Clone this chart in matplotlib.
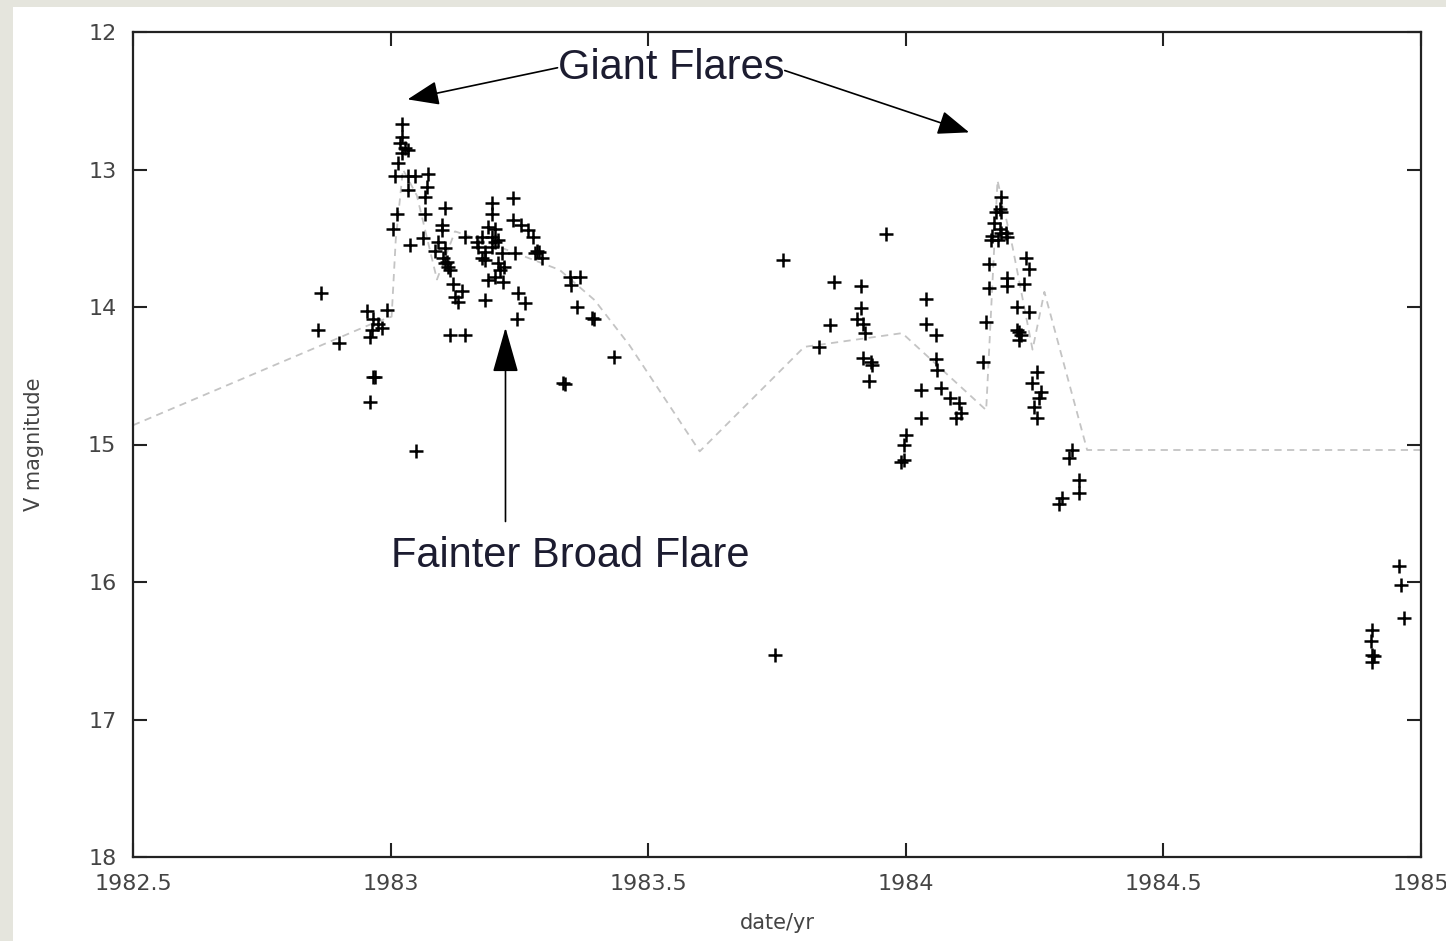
import numpy as np
import matplotlib
matplotlib.use("Agg")
import matplotlib.pyplot as plt
from matplotlib.patches import Rectangle

# V-band photometry (year, V mag)
obs_year = [
    1982.865, 1982.859, 1982.900, 1982.954, 1982.993, 1982.965, 1982.975, 1982.964,
    1982.983, 1982.960, 1982.965, 1982.969, 1982.960, 1983.049,
    # first giant flare
    1983.022, 1983.022, 1983.018, 1983.028, 1983.033, 1983.022, 1983.014, 1983.008,
    1983.033, 1983.047, 1983.072, 1983.033, 1983.070, 1983.066, 1983.012, 1983.066,
    1983.105, 1983.004, 1983.037, 1983.062, 1983.099, 1983.099, 1983.092, 1983.086,
    1983.105, 1983.101, 1983.109, 1983.111, 1983.115, 1983.105, 1983.121, 1983.138,
    1983.125, 1983.130, 1983.144, 1983.115, 1983.144,
    # fainter broad flare
    1983.183, 1983.237, 1983.196, 1983.196, 1983.189, 1983.202, 1983.177, 1983.196,
    1983.208, 1983.169, 1983.183, 1983.196, 1983.216, 1983.202, 1983.183, 1983.208,
    1983.212, 1983.202, 1983.189, 1983.221, 1983.241, 1983.237, 1983.254, 1983.266,
    1983.276, 1983.284, 1983.289, 1983.293, 1983.247, 1983.260, 1983.245, 1983.218,
    1983.167, 1983.177, 1983.280,
    1983.348, 1983.367, 1983.351, 1983.361, 1983.390, 1983.394, 1983.433, 1983.334,
    1983.338, 1983.747,
    # late 1983 / early 1984
    1983.761, 1983.962, 1983.861, 1983.914, 1983.852, 1983.832, 1983.914, 1983.906,
    1983.916, 1983.920, 1983.916, 1983.933, 1983.935, 1983.929, 1984.040, 1984.040,
    1984.059, 1984.059, 1984.061, 1984.030, 1984.069, 1984.085, 1984.104, 1984.108,
    1984.098, 1984.030, 1984.001, 1983.997, 1983.991, 1983.997,
    # second giant flare
    1984.185, 1984.182, 1984.185, 1984.176, 1984.172, 1984.182, 1984.185, 1984.195,
    1984.168, 1984.197, 1984.178, 1984.166, 1984.162, 1984.234, 1984.240, 1984.197,
    1984.197, 1984.162, 1984.230, 1984.216, 1984.240, 1984.156, 1984.215, 1984.220,
    1984.224, 1984.220, 1984.149, 1984.255, 1984.244, 1984.263, 1984.259, 1984.249,
    1984.255, 1984.323, 1984.317, 1984.337, 1984.337, 1984.304, 1984.298,
    # end of 1984
    1984.957, 1984.961, 1984.967, 1984.905, 1984.903, 1984.905, 1984.909, 1984.905,
]
obs_mag = [
    13.90, 14.17, 14.26, 14.03, 14.02, 14.09, 14.12, 14.17,
    14.15, 14.22, 14.51, 14.51, 14.69, 15.05,
    12.67, 12.76, 12.81, 12.84, 12.86, 12.88, 12.95, 13.05,
    13.05, 13.05, 13.03, 13.15, 13.13, 13.20, 13.32, 13.32,
    13.28, 13.43, 13.55, 13.50, 13.40, 13.44, 13.53, 13.59,
    13.57, 13.64, 13.67, 13.71, 13.73, 13.68, 13.83, 13.88,
    13.93, 13.96, 13.49, 14.20, 14.20,
    13.95, 13.21, 13.24, 13.32, 13.42, 13.43, 13.49, 13.49,
    13.51, 13.56, 13.60, 13.56, 13.61, 13.53, 13.66, 13.68,
    13.73, 13.78, 13.80, 13.71, 13.61, 13.37, 13.40, 13.44,
    13.49, 13.59, 13.60, 13.64, 13.90, 13.97, 14.09, 13.82,
    13.53, 13.64, 13.61,
    13.78, 13.78, 13.84, 14.00, 14.08, 14.09, 14.36, 14.55,
    14.56, 16.53,
    13.66, 13.47, 13.82, 13.85, 14.13, 14.29, 14.01, 14.09,
    14.12, 14.19, 14.37, 14.40, 14.42, 14.54, 13.94, 14.12,
    14.20, 14.38, 14.46, 14.60, 14.59, 14.66, 14.70, 14.77,
    14.81, 14.81, 14.93, 15.00, 15.13, 15.11,
    13.20, 13.29, 13.31, 13.31, 13.39, 13.43, 13.46, 13.46,
    13.48, 13.49, 13.51, 13.51, 13.69, 13.64, 13.72, 13.79,
    13.85, 13.86, 13.83, 14.00, 14.04, 14.11, 14.17, 14.18,
    14.20, 14.24, 14.40, 14.47, 14.55, 14.62, 14.66, 14.73,
    14.81, 15.04, 15.10, 15.26, 15.35, 15.39, 15.43,
    15.88, 16.02, 16.26, 16.35, 16.43, 16.53, 16.54, 16.58,
]

# smoothed trend (grey dashed)
trend_year = [1982.5, 1982.965, 1983.002, 1983.010, 1983.024, 1983.051, 1983.090,
              1983.125, 1983.173, 1983.251, 1983.328, 1983.396, 1983.464, 1983.600,
              1983.803, 1983.993, 1984.156, 1984.178, 1984.207, 1984.246, 1984.269,
              1984.352, 1985.0]
trend_mag = [14.86, 14.12, 14.07, 13.51, 13.00, 13.19, 13.80,
             13.45, 13.51, 13.62, 13.73, 13.95, 14.28, 15.05,
             14.29, 14.19, 14.75, 13.08, 13.56, 14.31, 13.89,
             15.04, 15.04]

x_ticks = [1982.5, 1983, 1983.5, 1984, 1984.5, 1985]
x_ticklabels = ["1982.5", "1983", "1983.5", "1984", "1984.5", "1985"]
y_ticks = [12, 13, 14, 15, 16, 17, 18]

W, H = 1446, 941
fig = plt.figure(figsize=(W / 100, H / 100), dpi=100)
fig.patch.set_facecolor("#e5e5dd")
# white slide panel behind the plot
fig.patches.append(Rectangle((13 / W, 0), 1 - 13 / W, 1 - 7 / H,
                             transform=fig.transFigure, facecolor="white",
                             edgecolor="none", zorder=-5))

ax = fig.add_axes([133 / W, 1 - 857 / H, (1421 - 133) / W, (857 - 32) / H])
ax.set_zorder(2)
ax.set_facecolor("white")

ax.plot(trend_year, trend_mag, color="#c4c4c4", lw=1.3, dashes=(4, 3), zorder=1)
ax.plot(obs_year, obs_mag, linestyle="none", marker="+", markersize=10.5,
        markeredgewidth=1.8, color="black", zorder=2)

ax.set_xlim(1982.5, 1985)
ax.set_ylim(18, 12)
ax.set_xticks(x_ticks)
ax.set_xticklabels(x_ticklabels)
ax.set_yticks(y_ticks)

for s in ax.spines.values():
    s.set_linewidth(1.6)
    s.set_color("#222222")
ax.tick_params(direction="in", length=10, width=1.5, color="#222222",
               top=True, right=True, labelsize=16, labelcolor="#444444")
ax.tick_params(axis="x", pad=12)
ax.tick_params(axis="y", pad=12)

ax.set_xlabel("date/yr", fontsize=15, color="#444444", labelpad=14)
ax.set_ylabel("V magnitude", fontsize=15, color="#444444", labelpad=32)

# annotations
ann_font = dict(family="Liberation Sans", fontsize=30, color="#1c1c30")
ax.text(1983.545, 12.26, "Giant Flares", ha="center", va="center", zorder=3, **ann_font)
ax.text(1983.349, 15.81, "Fainter Broad Flare", ha="center", va="center", zorder=3, **ann_font)

head = dict(arrowstyle="-|>,head_length=0.65,head_width=0.25", mutation_scale=30,
            color="black", lw=1.2, shrinkA=0, shrinkB=0)
ax.annotate("", xy=(1983.033, 12.49), xytext=(1983.324, 12.26), arrowprops=head)
ax.annotate("", xy=(1984.123, 12.73), xytext=(1983.765, 12.28), arrowprops=head)
head_v = dict(arrowstyle="-|>,head_length=0.95,head_width=0.27", mutation_scale=30,
              color="black", lw=1.2, shrinkA=0, shrinkB=0)
ax.annotate("", xy=(1983.223, 14.15), xytext=(1983.223, 15.56), arrowprops=head_v)

fig.savefig("out.png", dpi=100, facecolor=fig.get_facecolor())
